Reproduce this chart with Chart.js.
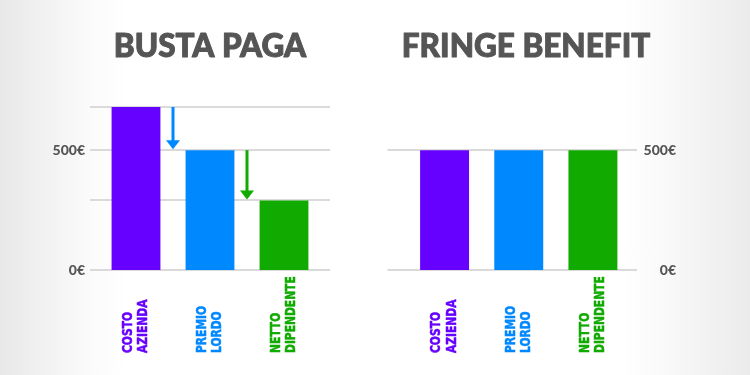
<!DOCTYPE html>
<html>
<head>
<meta charset="utf-8">
<script src="https://cdn.jsdelivr.net/npm/chart.js@4.4.1/dist/chart.umd.min.js"></script>
<style>
  html, body { margin: 0; padding: 0; }
  body {
    width: 750px; height: 375px; overflow: hidden; position: relative;
    background: linear-gradient(to right, #e8e8e8 0px, #fbfbfb 90px, #fff 130px, #fff 620px, #fafafa 660px, #ebebeb 750px);
  }
  .box { position: absolute; top: 0; width: 375px; height: 375px; }
</style>
</head>
<body>
<div class="box" style="left:0"><canvas id="bustaChart" width="375" height="375"></canvas></div>
<div class="box" style="left:375px"><canvas id="fringeChart" width="375" height="375"></canvas></div>
<script>
// dati
const categorie = [['COSTO', 'AZIENDA'], ['PREMIO', 'LORDO'], ['NETTO', 'DIPENDENTE']];
const colori = ['#6600ff', '#0088ff', '#11aa00'];
const valoriBusta = [680, 500, 290];
const valoriFringe = [500, 500, 500];
const griglieBusta = [0, 290, 500, 680];
const griglieFringe = [0, 500];
const tickValori = [0, 500];
const tickEtichette = ['0€', '500€'];
const yMax = 680;

const grigio = '#555555';

// griglia, titolo, etichette ruotate e frecce
const extra = {
  id: 'extra',
  beforeDatasetsDraw(chart, args, opts) {
    const { ctx, chartArea: a, scales: { y } } = chart;
    ctx.save();
    ctx.strokeStyle = '#dadada';
    ctx.lineWidth = 2;
    opts.griglie.forEach(v => {
      const py = Math.round(y.getPixelForValue(v));
      ctx.beginPath();
      ctx.moveTo(a.left - opts.gridLeft, py);
      ctx.lineTo(a.right + opts.gridRight, py);
      ctx.stroke();
    });
    ctx.restore();
  },
  afterDatasetsDraw(chart, args, opts) {
    const { ctx, scales: { x, y } } = chart;
    const data = chart.data.datasets[0].data;
    ctx.save();

    // titolo
    ctx.fillStyle = grigio;
    ctx.strokeStyle = grigio;
    ctx.lineWidth = 1;
    ctx.lineJoin = 'round';
    ctx.font = '900 31.5px Lato, "Open Sans", sans-serif';
    ctx.textAlign = 'center';
    ctx.textBaseline = 'middle';
    ctx.fillText(opts.titolo, opts.titleX, 47);
    ctx.strokeText(opts.titolo, opts.titleX, 47);

    // etichette categorie
    ctx.font = 'bold 14.5px "Liberation Sans Narrow", "DejaVu Sans Condensed", sans-serif';
    ctx.textAlign = 'left';
    ctx.lineWidth = 0.5;
    categorie.forEach((righe, i) => {
      const cx = x.getPixelForValue(i);
      ctx.fillStyle = colori[i];
      ctx.strokeStyle = colori[i];
      righe.forEach((testo, k) => {
        ctx.save();
        ctx.translate(cx - 8 + k * 15.5, 353);
        ctx.rotate(-Math.PI / 2);
        ctx.scale(0.82, 1);
        ctx.fillText(testo, 0, 0);
        ctx.strokeText(testo, 0, 0);
        ctx.restore();
      });
    });

    // frecce
    if (opts.frecce) {
      for (let i = 0; i < data.length - 1; i++) {
        const xa = (x.getPixelForValue(i) + x.getPixelForValue(i + 1)) / 2;
        const y0 = y.getPixelForValue(data[i]);
        const y1 = y.getPixelForValue(data[i + 1]) - 1;
        ctx.strokeStyle = colori[i + 1];
        ctx.fillStyle = colori[i + 1];
        ctx.lineWidth = 3;
        ctx.beginPath();
        ctx.moveTo(xa, y0);
        ctx.lineTo(xa, y1 - 6);
        ctx.stroke();
        ctx.beginPath();
        ctx.moveTo(xa - 7, y1 - 9);
        ctx.lineTo(xa + 7, y1 - 9);
        ctx.lineTo(xa, y1);
        ctx.closePath();
        ctx.fill();
      }
    }
    ctx.restore();
  }
};

function creaGrafico(id, valori, griglie, lato, opzioni) {
  return new Chart(document.getElementById(id), {
    type: 'bar',
    data: {
      labels: categorie,
      datasets: [{
        data: valori,
        backgroundColor: colori,
        borderWidth: 0,
        barPercentage: 0.66,
        categoryPercentage: 1
      }]
    },
    options: {
      responsive: false,
      animation: false,
      layout: { padding: opzioni.padding },
      plugins: {
        legend: { display: false },
        tooltip: { enabled: false },
        extra: opzioni.extra
      },
      scales: {
        x: { display: false },
        y: {
          position: lato,
          min: 0,
          max: yMax,
          grid: { display: false, drawTicks: false },
          border: { display: false },
          afterBuildTicks: s => { s.ticks = griglie.map(v => ({ value: v })); },
          afterFit: s => { s.width = opzioni.yWidth; },
          ticks: {
            autoSkip: false,
            padding: opzioni.tickPadding,
            crossAlign: lato === 'right' ? 'far' : 'near',
            color: grigio,
            font: { family: 'Lato, "Open Sans", sans-serif', size: 14, weight: '900' },
            callback: v => {
              const i = tickValori.indexOf(v);
              return i >= 0 ? tickEtichette[i] : '';
            }
          }
        }
      }
    },
    plugins: [extra]
  });
}

creaGrafico('bustaChart', valoriBusta, griglieBusta, 'left', {
  padding: { left: 0, right: 54, top: 107, bottom: 105 },
  yWidth: 99,
  tickPadding: 14,
  extra: { titolo: 'BUSTA PAGA', titleX: 210, griglie: griglieBusta, gridLeft: 9, gridRight: 9, frecce: true }
});

creaGrafico('fringeChart', valoriFringe, griglieFringe, 'right', {
  padding: { left: 32.5, right: 74, top: 107, bottom: 105 },
  yWidth: 46,
  tickPadding: 13,
  extra: { titolo: 'FRINGE BENEFIT', titleX: 151, griglie: griglieFringe, gridLeft: 20, gridRight: 7, frecce: false }
});
</script>
</body>
</html>
